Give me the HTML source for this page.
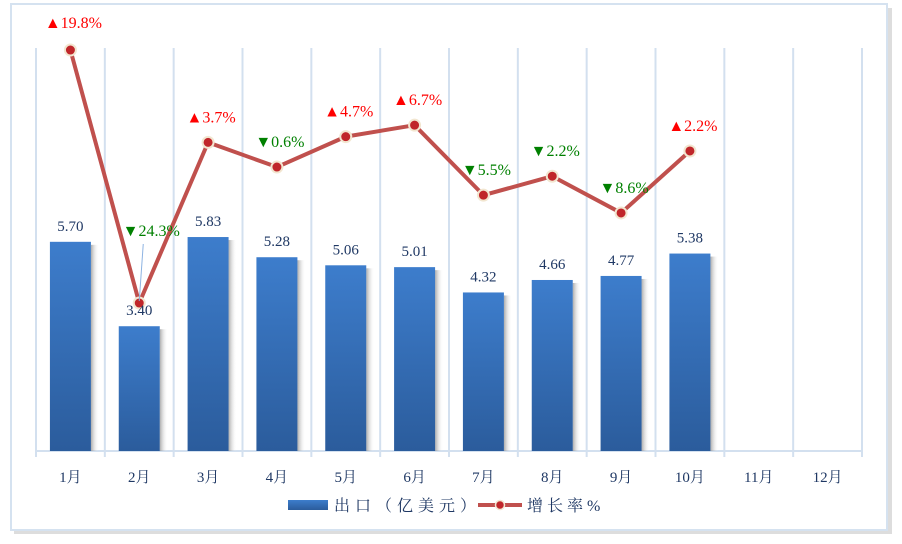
<!DOCTYPE html>
<html><head><meta charset="utf-8">
<style>
body{margin:0;width:902px;height:544px;background:#fff;overflow:hidden}
svg{display:block}
text{font-family:"Liberation Serif","Noto Serif CJK SC",serif}
</style></head><body>
<svg id="c" width="902" height="544">
<defs>
<linearGradient id="bg" x1="0" y1="0" x2="0" y2="1"><stop offset="0" stop-color="#3d7dcc"/><stop offset="1" stop-color="#2b5c9c"/></linearGradient>
<linearGradient id="sh" x1="0" y1="0" x2="1" y2="0"><stop offset="0" stop-color="#888" stop-opacity="0.7"/><stop offset="1" stop-color="#fff" stop-opacity="0"/></linearGradient>
</defs>
<rect x="14" y="8" width="878" height="526" fill="#bbb" opacity="0.5"/>
<rect x="11" y="4" width="876" height="526" fill="#fff" stroke="#d5e2f0" stroke-width="2"/>
<g id="grid"></g><g id="bars"></g><g id="line"></g><g id="labels"></g>
<g>
<rect x="288" y="500" width="40" height="10" fill="url(#bg)"/>
<text x="334" y="511" font-size="16" fill="#1f3864" letter-spacing="5">出口（亿美元）</text>
<line x1="478" y1="505" x2="522" y2="505" stroke="#c0504d" stroke-width="4"/>
<circle cx="500" cy="505" r="4.5" fill="#c0262a" stroke="#f2e6d0" stroke-width="1.5"/>
<text x="527" y="511" font-size="16" fill="#1f3864" letter-spacing="4">增长率%</text>
</g>
</svg>
<script>
const categories=["1月","2月","3月","4月","5月","6月","7月","8月","9月","10月","11月","12月"];
const exportValues=[5.70,3.40,5.83,5.28,5.06,5.01,4.32,4.66,4.77,5.38,null,null];
const growthValues=[19.8,-24.3,3.7,-0.6,4.7,6.7,-5.5,-2.2,-8.6,2.2,null,null];
const NS="http://www.w3.org/2000/svg";
const x0=36,x1=862,base=451,topY=48,step=(x1-x0)/categories.length;
const xC=i=>x0+step*(i+0.5);
const yBar=v=>base-v*36.7;
const yLine=v=>163.6-v*5.737;
function mk(tag,attrs,parent,txt){const e=document.createElementNS(NS,tag);for(const k in attrs)e.setAttribute(k,attrs[k]);if(txt!=null)e.textContent=txt;document.getElementById(parent).appendChild(e);return e;}
for(let i=0;i<=categories.length;i++){
 const l=mk('line',{x1:x0+step*i,x2:x0+step*i,y1:topY,y2:base+6,stroke:'#d3e0ef','stroke-width':2},'grid');
 
 
}
const ax=mk('line',{x1:x0,x2:x1,y1:base,y2:base,stroke:'#d3e0ef','stroke-width':2},'grid');


categories.forEach((c,i)=>{
 const t=mk('text',{x:xC(i),y:482,'text-anchor':'middle','font-size':15,fill:'#1f3864'},'labels',c);
 
 
 const v=exportValues[i];
 if(v==null)return;
 const w=41,bx=xC(i)-w/2,by=yBar(v);
 const s=mk('rect',{x:bx+w,y:by+3,width:8,height:base-by-3,fill:'url(#sh)'},'bars');
 
 
 const r=mk('rect',{x:bx,y:by,width:w,height:base-by,fill:'url(#bg)'},'bars');
 
 
 const lb=mk('text',{x:xC(i),y:by-11,'text-anchor':'middle','font-size':15,fill:'#1f3864'},'labels',v.toFixed(2));
 
 
});
const pts=growthValues.map((v,i)=>v==null?null:[xC(i),yLine(v)]).filter(p=>p);
const pl=mk('polyline',{points:pts.map(p=>p.join(',')).join(' '),fill:'none',stroke:'#c0504d','stroke-width':4,'stroke-linejoin':'round'},'line');


growthValues.forEach((v,i)=>{
 if(v==null)return;
 const cx=xC(i),cy=yLine(v);
 const c=mk('circle',{cx:cx,cy:cy,r:5.5,fill:'#c0262a',stroke:'#f2e6d0','stroke-width':2},'line');
 
 
 const up=v>=0,col=up?'#ff0000':'#008000';
 let ly=cy-20,lx=cx+3;
 if(i===1){ly=yLine(v)-67;lx=cx+12;}
 if(i===0){ly=cy-22;}
 const t=mk('text',{x:lx,y:ly,'text-anchor':'middle','font-size':16,fill:col},'labels',(up?'▲':'▼')+Math.abs(v).toFixed(1)+'%');
 
 
 if(i===1){const ll=mk('line',{x1:cx+4,y1:ly+8,x2:cx,y2:cy-2,stroke:'#8db3e2','stroke-width':1},'labels');
 
 }
});
</script>
</body></html>
